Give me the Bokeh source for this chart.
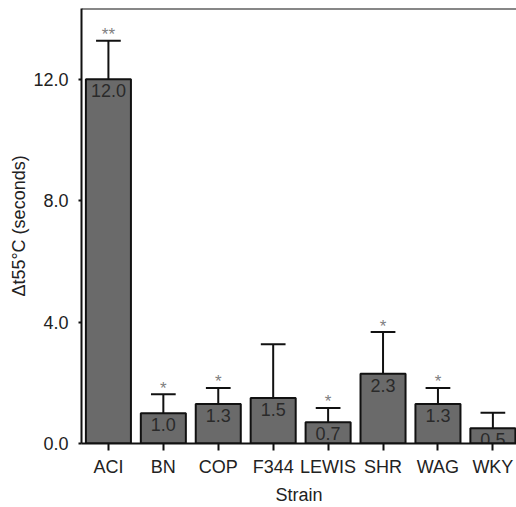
from bokeh.plotting import figure
from bokeh.models import ColumnDataSource, FixedTicker, Range1d, Span
from bokeh.core.properties import value
from bokeh.embed import file_html
from bokeh.resources import INLINE

strains = ["ACI", "BN", "COP", "F344", "LEWIS", "SHR", "WAG", "WKY"]
means = [12.0, 1.0, 1.3, 1.5, 0.7, 2.3, 1.3, 0.5]
err_top = [13.27, 1.62, 1.83, 3.27, 1.17, 3.67, 1.83, 1.01]
signif = ["**", "*", "*", "", "*", "*", "*", ""]
y_ticks = [0, 4, 8, 12]
y_tick_labels = ["0.0", "4.0", "8.0", "12.0"]

FONT = "Liberation Sans"
Y_END = 14.33
xs = list(range(len(strains)))
half_cap = 0.225

src = ColumnDataSource(dict(
    x=xs, m=means, top=err_top, lab=[f"{v:.1f}" for v in means], sig=signif,
    cx0=[x - half_cap for x in xs], cx1=[x + half_cap for x in xs],
))

p = figure(width=516, height=507, output_backend="svg", toolbar_location=None,
           x_range=Range1d(-0.49, 7.43), y_range=Range1d(0, Y_END),
           min_border_left=81, min_border_right=0, min_border_top=8, min_border_bottom=63)
p.outline_line_color = None
p.xgrid.grid_line_color = None
p.ygrid.grid_line_color = None
p.background_fill_color = "white"

p.vbar(x="x", top="m", bottom=0, width=0.82, source=src,
       fill_color="#6a6a6a", line_color="#111111", line_width=2)
p.segment(x0="x", y0="m", x1="x", y1="top", source=src, line_color="#111111", line_width=2)
p.segment(x0="cx0", y0="top", x1="cx1", y1="top", source=src, line_color="#111111", line_width=2)

p.text(x="x", y="m", text="lab", source=src, text_align="center", text_baseline="top",
       y_offset=5, text_font=value(FONT), text_font_size="18px", text_color="#2a2a2a")
p.text(x="x", y="top", text="sig", source=src, text_align="center", text_baseline="alphabetic",
       y_offset=-6, text_font=value(FONT), text_font_size="17px", text_color="#808080")

p.add_layout(Span(location=Y_END, dimension="width", line_color="#111111", line_width=2))

p.xaxis.ticker = FixedTicker(ticks=xs)
p.xaxis.major_label_overrides = {i: s for i, s in enumerate(strains)}
p.yaxis.ticker = FixedTicker(ticks=y_ticks)
p.yaxis.major_label_overrides = {t: l for t, l in zip(y_ticks, y_tick_labels)}

for ax in (p.xaxis, p.yaxis):
    ax.axis_line_width = 2
    ax.axis_line_color = "#111111"
    ax.major_tick_line_color = "#111111"
    ax.major_tick_line_width = 2
    ax.major_tick_in = 0
    ax.minor_tick_line_color = None
    ax.major_label_text_font = FONT
    ax.major_label_text_font_size = "18px"
    ax.major_label_text_color = "#222222"
    ax.major_label_text_line_height = 1.0
    ax.axis_label_text_font = FONT
    ax.axis_label_text_font_size = "18px"
    ax.axis_label_text_font_style = "normal"
    ax.axis_label_text_color = "#222222"
    ax.axis_label_text_line_height = 1.0

p.xaxis.major_tick_out = 7
p.xaxis.major_label_standoff = 6
p.xaxis.axis_label = "Strain"
p.xaxis.axis_label_standoff = 5
p.yaxis.major_tick_out = 3
p.yaxis.major_label_standoff = 10
p.yaxis.axis_label = "Δt55°C (seconds)"
p.yaxis.axis_label_standoff = 1

open("out.html", "w").write(file_html(p, INLINE))
